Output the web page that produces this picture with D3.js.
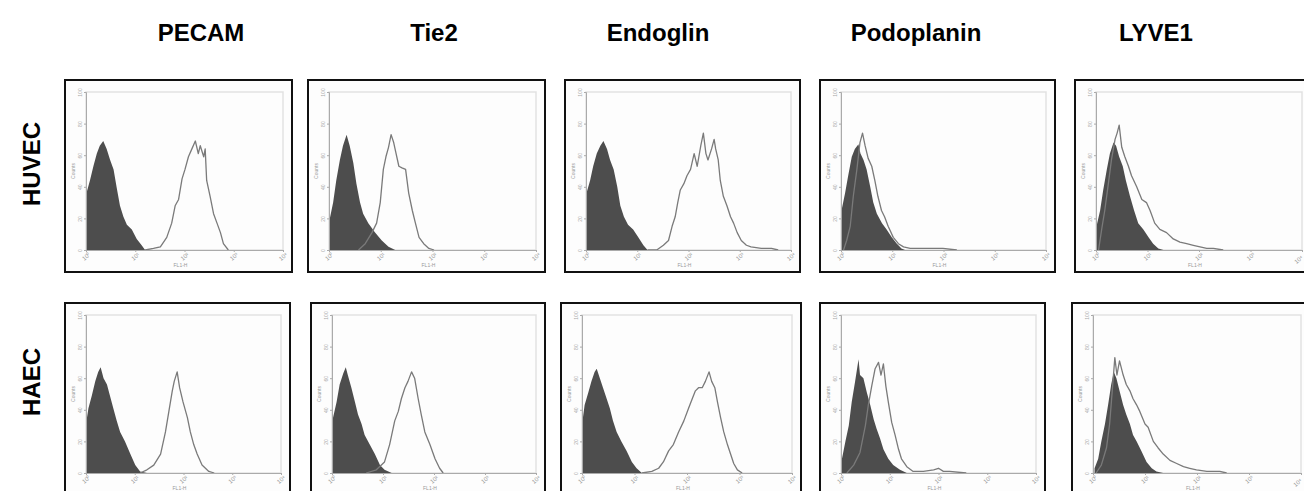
<!DOCTYPE html>
<html>
<head>
<meta charset="utf-8">
<script src="https://cdn.jsdelivr.net/npm/d3@7"></script>
<style>
  body { margin: 0; background: #fff; }
  svg { display: block; }
</style>
</head>
<body>
<div id="wrapper"></div>
<script>
// markers (columns) and cell types (rows)
const markers = ['PECAM', 'Tie2', 'Endoglin', 'Podoplanin', 'LYVE1'];
const cells = ['HUVEC', 'HAEC'];
const yTicks = [0, 20, 40, 60, 80, 100];
const xTicks = [0, 1, 2, 3, 4]; // log10 of FL1-H

// histogram points: [log10 FL1-H, counts]; iso = isotype control (filled), ab = stained
const huvec_pecam_iso = [[0.01,36],[0.08,44],[0.15,53],[0.22,61],[0.28,66],[0.35,69],[0.42,64],[0.49,57],[0.56,51],[0.62,40],[0.69,28],[0.76,21],[0.83,16],[0.93,13],[1.03,7],[1.13,3],[1.2,0]];
const huvec_pecam_ab = [[1.2,0],[1.37,1],[1.51,2],[1.64,8],[1.74,17],[1.81,28],[1.88,32],[1.95,45],[2.01,51],[2.08,59],[2.15,64],[2.22,69],[2.28,61],[2.32,66],[2.39,59],[2.42,64],[2.45,44],[2.52,34],[2.59,23],[2.66,17],[2.73,11],[2.79,4],[2.89,0]];

const huvec_tie2_iso = [[0.01,19],[0.08,30],[0.14,44],[0.21,57],[0.27,66],[0.34,73],[0.4,66],[0.47,55],[0.53,42],[0.6,30],[0.66,23],[0.76,17],[0.89,11],[1.02,6],[1.15,2],[1.28,0]];
const huvec_tie2_ab = [[0.57,0],[0.7,4],[0.83,11],[0.92,17],[0.99,30],[1.05,51],[1.1,59],[1.15,65],[1.2,73],[1.25,68],[1.29,62],[1.35,53],[1.41,52],[1.48,51],[1.54,36],[1.61,25],[1.67,17],[1.74,8],[1.83,4],[1.93,1],[2.03,0]];

const huvec_endoglin_iso = [[0.01,36],[0.08,44],[0.14,53],[0.21,61],[0.28,66],[0.34,69],[0.41,64],[0.47,57],[0.54,51],[0.61,40],[0.67,28],[0.74,21],[0.82,16],[0.92,13],[1.02,8],[1.12,3],[1.2,0]];
const huvec_endoglin_ab = [[1.2,0],[1.38,0],[1.51,3],[1.61,6],[1.68,15],[1.74,21],[1.79,30],[1.84,38],[1.91,42],[1.97,47],[2.04,51],[2.11,61],[2.17,53],[2.24,66],[2.29,74],[2.34,61],[2.38,57],[2.45,64],[2.5,70],[2.53,64],[2.58,57],[2.62,44],[2.68,34],[2.75,28],[2.82,21],[2.88,17],[2.95,11],[3.03,6],[3.13,3],[3.22,2],[3.42,1],[3.62,1],[3.75,0]];

const huvec_podoplanin_iso = [[0.01,25],[0.08,36],[0.14,47],[0.21,59],[0.27,64],[0.34,67],[0.38,61],[0.44,57],[0.5,51],[0.57,40],[0.63,30],[0.7,23],[0.8,17],[0.89,13],[0.99,8],[1.09,4],[1.18,1],[1.25,0]];
const huvec_podoplanin_ab = [[0.05,0],[0.11,6],[0.18,15],[0.24,34],[0.31,51],[0.37,68],[0.42,74],[0.47,66],[0.53,58],[0.6,53],[0.66,44],[0.72,34],[0.79,25],[0.85,21],[0.92,15],[1.02,8],[1.12,4],[1.22,2],[1.35,1],[1.67,1],[1.99,1],[2.26,0]];

const huvec_lyve1_iso = [[0.01,15],[0.08,25],[0.14,38],[0.21,51],[0.27,61],[0.34,68],[0.39,66],[0.45,59],[0.52,53],[0.58,44],[0.66,34],[0.74,25],[0.82,17],[0.92,13],[1.02,8],[1.11,4],[1.21,1],[1.31,0]];
const huvec_lyve1_ab = [[0.05,0],[0.11,13],[0.17,25],[0.24,42],[0.3,57],[0.37,70],[0.41,74],[0.45,79],[0.5,65],[0.56,59],[0.63,53],[0.69,47],[0.79,40],[0.89,32],[0.98,30],[1.05,25],[1.14,17],[1.24,13],[1.37,11],[1.5,7],[1.63,5],[1.76,4],[1.89,3],[2.02,2],[2.15,1],[2.28,1],[2.47,0]];

const haec_pecam_iso = [[0.01,33],[0.05,41],[0.12,49],[0.19,58],[0.25,64],[0.3,67],[0.36,60],[0.43,56],[0.49,49],[0.56,41],[0.63,33],[0.7,26],[0.8,20],[0.91,12],[1.01,5],[1.11,1],[1.25,0]];
const haec_pecam_ab = [[1.11,0],[1.25,2],[1.39,5],[1.53,12],[1.63,26],[1.7,39],[1.77,52],[1.81,58],[1.87,64],[1.92,54],[1.99,45],[2.08,35],[2.14,26],[2.21,18],[2.28,12],[2.38,5],[2.52,1],[2.63,0]];

const haec_tie2_iso = [[0.02,35],[0.09,45],[0.15,56],[0.22,63],[0.27,67],[0.31,62],[0.38,54],[0.45,45],[0.51,37],[0.58,31],[0.64,24],[0.74,18],[0.84,12],[0.94,5],[1.03,2],[1.17,0]];
const haec_tie2_ab = [[0.67,0],[0.87,2],[1.03,7],[1.13,18],[1.23,33],[1.3,39],[1.36,47],[1.43,54],[1.49,58],[1.56,64],[1.62,60],[1.69,47],[1.75,37],[1.82,26],[1.92,18],[2.02,9],[2.11,3],[2.18,0]];

const haec_endoglin_iso = [[0.01,33],[0.05,43],[0.12,51],[0.18,58],[0.24,64],[0.28,66],[0.34,60],[0.4,54],[0.47,47],[0.53,41],[0.59,33],[0.66,26],[0.75,20],[0.85,14],[0.95,7],[1.04,3],[1.14,0]];
const haec_endoglin_ab = [[1.14,0],[1.33,1],[1.46,3],[1.55,7],[1.65,14],[1.74,18],[1.84,26],[1.94,33],[2.03,41],[2.1,47],[2.16,52],[2.22,54],[2.29,54],[2.35,58],[2.42,64],[2.47,58],[2.53,54],[2.58,45],[2.64,35],[2.7,26],[2.77,18],[2.83,12],[2.89,6],[2.96,2],[3.05,0]];

const haec_podoplanin_iso = [[0.02,9],[0.09,20],[0.16,30],[0.22,45],[0.29,58],[0.36,72],[0.39,62],[0.46,60],[0.53,51],[0.6,43],[0.67,34],[0.73,28],[0.8,22],[0.87,15],[0.97,9],[1.07,5],[1.21,2],[1.35,0]];
const haec_podoplanin_ab = [[0.12,0],[0.26,5],[0.39,13],[0.5,30],[0.56,43],[0.63,55],[0.7,66],[0.77,70],[0.82,62],[0.87,69],[0.92,55],[0.97,45],[1.04,32],[1.11,24],[1.18,15],[1.24,9],[1.35,4],[1.48,1],[1.69,1],[1.9,2],[2.0,3],[2.1,1],[2.23,1],[2.57,0]];

const haec_lyve1_iso = [[0.03,3],[0.1,9],[0.16,20],[0.23,31],[0.29,43],[0.35,56],[0.4,64],[0.45,60],[0.51,52],[0.58,43],[0.64,37],[0.71,31],[0.77,24],[0.84,20],[0.93,14],[1.03,7],[1.13,3],[1.22,1],[1.35,0]];
const haec_lyve1_ab = [[0.06,0],[0.16,5],[0.26,16],[0.32,31],[0.37,52],[0.42,73],[0.46,62],[0.51,71],[0.58,62],[0.64,56],[0.71,52],[0.77,47],[0.84,43],[0.9,39],[1.0,31],[1.06,29],[1.16,20],[1.25,16],[1.35,12],[1.48,8],[1.61,6],[1.74,4],[1.86,3],[1.99,2],[2.19,1],[2.44,1],[2.57,0]];

const panels = [
  [[huvec_pecam_iso, huvec_pecam_ab], [huvec_tie2_iso, huvec_tie2_ab], [huvec_endoglin_iso, huvec_endoglin_ab], [huvec_podoplanin_iso, huvec_podoplanin_ab], [huvec_lyve1_iso, huvec_lyve1_ab]],
  [[haec_pecam_iso, haec_pecam_ab], [haec_tie2_iso, haec_tie2_ab], [haec_endoglin_iso, haec_endoglin_ab], [haec_podoplanin_iso, haec_podoplanin_ab], [haec_lyve1_iso, haec_lyve1_ab]]
];

// layout of the outer frames (left, right) per row
const rowTop = [80, 303];
const boxH = 192;
const boxX = [
  [[65, 292], [308, 545], [565, 800], [820, 1055], [1075, 1311]],
  [[65, 290], [311, 545], [561, 801], [820, 1045], [1072, 1310]]
];
const titleX = [201, 434, 658, 916, 1156];
const rowLabelY = [164, 382];

const svg = d3.select('#wrapper').append('svg').attr('width', 1304).attr('height', 491);
const font = 'Liberation Sans, Arial, Helvetica, sans-serif';

svg.selectAll('text.title')
  .data(markers)
  .enter()
  .append('text')
  .attr('class', 'title')
  .attr('x', (d, i) => titleX[i])
  .attr('y', 41)
  .attr('text-anchor', 'middle')
  .attr('font-family', font)
  .attr('font-weight', 'bold')
  .attr('font-size', 24)
  .text(d => d);

svg.selectAll('text.row')
  .data(cells)
  .enter()
  .append('text')
  .attr('class', 'row')
  .attr('transform', (d, i) => `translate(31,${rowLabelY[i]}) rotate(-90)`)
  .attr('text-anchor', 'middle')
  .attr('dominant-baseline', 'central')
  .attr('font-family', font)
  .attr('font-weight', 'bold')
  .attr('font-size', 24)
  .text(d => d);

const sup = ['\u2070', '\u00b9', '\u00b2', '\u00b3', '\u2074'];

panels.forEach((row, r) => {
  row.forEach((pair, c) => {
    const [bl, br] = boxX[r][c];
    const top = rowTop[r];
    const left = bl + 21, right = br - 9;
    const y0 = top + 170, y1 = top + 12;

    const x = d3.scaleLinear().domain([0, 4]).range([left, right]);
    const y = d3.scaleLinear().domain([0, 100]).range([y0, y1]);

    const g = svg.append('g');

    g.append('rect')
      .attr('x', bl).attr('y', top)
      .attr('width', br - bl).attr('height', boxH)
      .attr('fill', '#fdfdfd')
      .attr('stroke', '#111')
      .attr('stroke-width', 2);

    g.append('rect')
      .attr('x', left).attr('y', y1)
      .attr('width', right - left).attr('height', y0 - y1)
      .attr('fill', 'none')
      .attr('stroke', '#e2e2e2')
      .attr('stroke-width', 1.5);

    const area = d3.area().x(d => x(d[0])).y0(y0).y1(d => y(d[1]));
    const line = d3.line().x(d => x(d[0])).y(d => y(d[1]));

    g.append('path')
      .attr('d', area(pair[0]))
      .attr('fill', '#4d4d4d');

    g.append('path')
      .attr('d', line(pair[1]))
      .attr('fill', 'none')
      .attr('stroke', '#7a7a7a')
      .attr('stroke-width', 1.3)
      .attr('stroke-linejoin', 'round');

    const yAxis = d3.axisLeft(y).tickValues(yTicks).tickSize(2).tickFormat(d3.format('d'));
    const ya = g.append('g').attr('transform', `translate(${left},0)`).call(yAxis);
    ya.select('.domain').attr('stroke', '#aaa');
    ya.selectAll('.tick line').attr('stroke', '#aaa');
    ya.selectAll('.tick text')
      .attr('fill', '#aaa')
      .attr('font-size', 5)
      .attr('font-family', font)
      .attr('x', -4)
      .attr('dy', 0)
      .attr('text-anchor', 'middle')
      .attr('transform', 'rotate(-90,-4,0)');

    const xAxis = d3.axisBottom(x).tickValues(xTicks).tickSize(2).tickFormat(d => '10' + sup[d]);
    const xa = g.append('g').attr('transform', `translate(0,${y0})`).call(xAxis);
    xa.select('.domain').attr('stroke', '#aaa');
    xa.selectAll('.tick line').attr('stroke', '#aaa');
    xa.selectAll('.tick text')
      .attr('fill', '#999')
      .attr('font-size', 6)
      .attr('font-family', font)
      .attr('y', 5)
      .attr('dy', '0.6em')
      .attr('text-anchor', d => (c === 4 && d === 4) ? 'end' : 'middle')
      .attr('transform', 'rotate(-40,0,7)');

    g.append('text')
      .attr('x', (left + right) / 2 - 4)
      .attr('y', y0 + 17)
      .attr('text-anchor', 'middle')
      .attr('font-family', font)
      .attr('font-size', 5)
      .attr('fill', '#999')
      .text('FL1-H');

    g.append('text')
      .attr('transform', `translate(${left - 11},${(y0 + y1) / 2}) rotate(-90)`)
      .attr('text-anchor', 'middle')
      .attr('font-family', font)
      .attr('font-size', 5)
      .attr('fill', '#999')
      .text('Counts');
  });
});
</script>
</body>
</html>
